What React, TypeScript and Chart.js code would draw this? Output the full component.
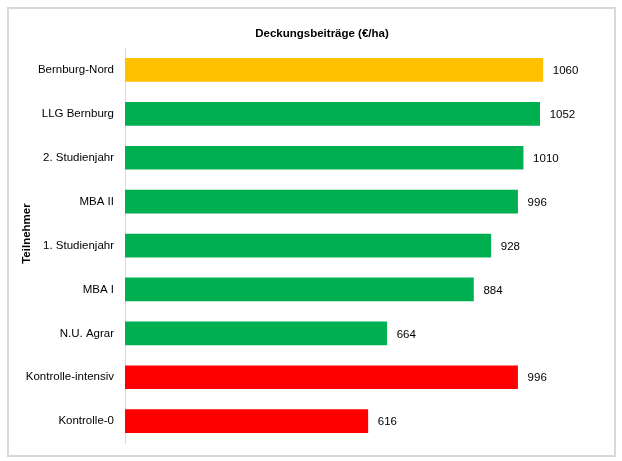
import React, { useEffect, useRef } from "react";
import { Chart, registerables } from "chart.js";

Chart.register(...registerables);

const categories = [
  "Bernburg-Nord",
  "LLG Bernburg",
  "2. Studienjahr",
  "MBA II",
  "1. Studienjahr",
  "MBA I",
  "N.U. Agrar",
  "Kontrolle-intensiv",
  "Kontrolle-0",
];
const values = [1060, 1052, 1010, 996, 928, 884, 664, 996, 616];
const barColors = [
  "#FFC000",
  "#00B050",
  "#00B050",
  "#00B050",
  "#00B050",
  "#00B050",
  "#00B050",
  "#FF0000",
  "#FF0000",
];
const chartTitle = "Deckungsbeiträge (€/ha)";
const axisTitle = "Teilnehmer";

const FONT = "'Liberation Sans', Arial, sans-serif";

const decorPlugin = {
  id: "decor",
  beforeDraw(chart: any) {
    const { ctx, width, height } = chart;
    ctx.save();
    ctx.fillStyle = "#ffffff";
    ctx.fillRect(0, 0, width, height);
    ctx.strokeStyle = "#d9d9d9";
    ctx.lineWidth = 2;
    ctx.strokeRect(8, 8, width - 15, height - 13);
    ctx.restore();
  },
  afterDraw(chart: any) {
    const { ctx, chartArea } = chart;
    ctx.save();
    ctx.fillStyle = "#000";
    ctx.font = `bold 11.5px ${FONT}`;
    ctx.textAlign = "center";
    ctx.textBaseline = "middle";
    ctx.fillText(chartTitle, 322, 34);
    ctx.translate(27, (chartArea.top + chartArea.bottom) / 2 - 12);
    ctx.rotate(-Math.PI / 2);
    ctx.fillText(axisTitle, 0, 0);
    ctx.restore();
  },
  afterDatasetsDraw(chart: any) {
    const { ctx } = chart;
    const meta = chart.getDatasetMeta(0);
    ctx.save();
    ctx.fillStyle = "#000";
    ctx.font = `11.5px ${FONT}`;
    ctx.textAlign = "left";
    ctx.textBaseline = "middle";
    meta.data.forEach((bar: any, i: number) => {
      ctx.fillText(String(values[i]), bar.x + 10, bar.y + 1);
    });
    ctx.restore();
  },
};

export default function App() {
  const ref = useRef<HTMLCanvasElement | null>(null);
  useEffect(() => {
    document.body.style.margin = "0";
    if (!ref.current) return;
    const chart = new Chart(ref.current, {
      type: "bar",
      data: {
        labels: categories,
        datasets: [
          {
            data: values,
            backgroundColor: barColors,
            borderWidth: 0,
            barThickness: 23,
          },
        ],
      },
      options: {
        indexAxis: "y",
        animation: false,
        responsive: false,
        layout: { padding: { top: 48, bottom: 17, right: 24, left: 0 } },
        plugins: {
          legend: { display: false },
          tooltip: { enabled: false },
          title: { display: false },
        },
        scales: {
          x: {
            display: false,
            min: 0,
            max: 1200,
          },
          y: {
            afterFit(scale: any) {
              scale.width = 125;
            },
            grid: { display: false, drawTicks: false },
            border: { display: true, color: "#d9d9d9", width: 1 },
            ticks: {
              color: "#000",
              padding: 11,
              font: { family: FONT, size: 11.5 },
            },
          },
        },
      },
      plugins: [decorPlugin],
    });
    return () => chart.destroy();
  }, []);
  return <canvas ref={ref} width={622} height={461} style={{ display: "block" }} />;
}
